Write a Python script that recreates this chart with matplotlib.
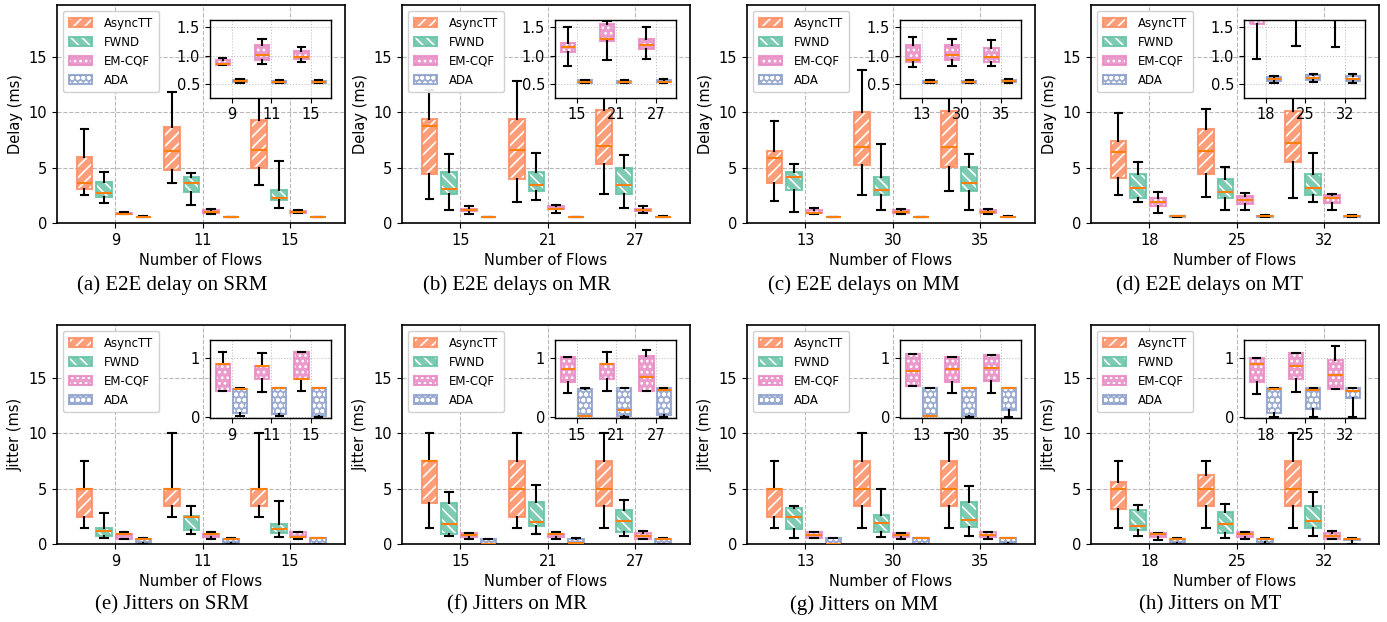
import matplotlib
matplotlib.use('Agg')
import matplotlib.pyplot as plt
from matplotlib.patches import PathPatch, Patch
from matplotlib.colors import to_rgba

plt.rcParams['hatch.color'] = 'white'
plt.rcParams['hatch.linewidth'] = 1.2
plt.rcParams['font.family'] = ['DejaVu Sans']

methods = ['AsyncTT', 'FWND', 'EM-CQF', 'ADA']
colors = ['#fc8d62', '#66c2a5', '#e78ac3', '#8da0cb']
hatches = ['///', '\\\\\\', '...', 'ooo']

flows_srm = ['9', '11', '15']
flows_mr = ['15', '21', '27']
flows_mm = ['13', '30', '35']
flows_mt = ['18', '25', '32']

# each entry: (whislo, q1, med, q3, whishi) per flow group
delay_srm = [
    [(2.5, 3.1, 3.6, 6.0, 8.5), (3.6, 4.8, 6.5, 8.65, 11.8), (3.4, 5.0, 6.6, 9.3, 14.0)],
    [(1.8, 2.35, 2.7, 3.7, 4.6), (1.6, 2.8, 3.6, 4.2, 4.5), (1.4, 2.05, 2.3, 3.0, 5.6)],
    [(0.84, 0.84, 0.85, 0.92, 0.97), (0.85, 0.93, 1.02, 1.18, 1.30), (0.89, 0.94, 0.98, 1.08, 1.15)],
    [(0.53, 0.54, 0.556, 0.58, 0.595), (0.53, 0.53, 0.545, 0.56, 0.57), (0.525, 0.53, 0.545, 0.565, 0.58)],
]
delay_mr = [
    [(2.2, 4.45, 8.8, 9.4, 12.0), (1.9, 4.0, 6.6, 9.4, 12.8), (2.65, 5.3, 7.0, 10.2, 13.5)],
    [(1.2, 2.65, 3.1, 4.6, 6.2), (2.05, 2.85, 3.4, 4.6, 6.3), (1.4, 2.65, 3.45, 5.0, 6.1)],
    [(0.82, 1.07, 1.16, 1.23, 1.5), (0.93, 1.25, 1.30, 1.55, 1.61), (0.94, 1.11, 1.19, 1.29, 1.51)],
    [(0.52, 0.53, 0.55, 0.57, 0.58), (0.52, 0.53, 0.55, 0.56, 0.58), (0.53, 0.54, 0.55, 0.58, 0.60)],
]
delay_mm = [
    [(1.95, 3.6, 5.9, 6.55, 9.2), (2.55, 5.2, 6.9, 10.0, 13.8), (2.9, 5.05, 6.85, 10.15, 14.0)],
    [(1.0, 3.0, 4.2, 4.6, 5.3), (1.15, 2.5, 3.0, 4.15, 7.1), (1.2, 2.85, 3.6, 5.05, 6.2)],
    [(0.8, 0.9, 0.92, 1.18, 1.32), (0.82, 0.92, 1.01, 1.19, 1.29), (0.83, 0.89, 0.98, 1.14, 1.28)],
    [(0.52, 0.53, 0.55, 0.56, 0.58), (0.52, 0.53, 0.55, 0.56, 0.58), (0.53, 0.54, 0.56, 0.57, 0.59)],
]
delay_mt = [
    [(2.55, 4.1, 6.4, 7.4, 9.95), (2.35, 4.45, 6.55, 8.45, 10.3), (2.25, 5.5, 7.2, 10.1, 14.0)],
    [(1.9, 2.3, 3.15, 4.4, 5.55), (1.2, 2.25, 2.8, 4.0, 5.1), (1.9, 2.55, 3.15, 4.45, 6.3)],
    [(0.94, 1.55, 1.9, 2.3, 2.8), (1.17, 1.75, 2.05, 2.45, 2.7), (1.15, 1.8, 2.25, 2.55, 2.65)],
    [(0.52, 0.56, 0.59, 0.63, 0.65), (0.54, 0.58, 0.62, 0.66, 0.68), (0.53, 0.56, 0.60, 0.64, 0.68)],
]

jitter_srm = [
    [(1.45, 2.45, 5.0, 5.0, 7.5), (2.45, 3.45, 5.0, 5.0, 10.0), (2.45, 3.45, 5.0, 5.0, 10.0)],
    [(0.55, 0.7, 1.15, 1.45, 2.8), (0.9, 1.3, 2.45, 2.5, 3.4), (0.6, 1.0, 1.35, 1.8, 3.85)],
    [(0.44, 0.44, 0.9, 0.9, 1.1), (0.43, 0.64, 0.87, 0.87, 1.09), (0.44, 0.65, 0.65, 1.1, 1.1)],
    [(0.02, 0.075, 0.48, 0.48, 0.5), (0.03, 0.06, 0.49, 0.49, 0.5), (0.01, 0.03, 0.5, 0.5, 0.5)],
]
jitter_mr = [
    [(1.45, 3.7, 7.5, 7.5, 10.0), (1.45, 2.4, 5.0, 7.5, 10.0), (1.45, 3.45, 5.0, 7.5, 10.0)],
    [(0.7, 0.9, 1.8, 3.7, 4.7), (0.9, 1.6, 2.0, 3.8, 5.3), (0.75, 1.1, 2.1, 3.1, 4.0)],
    [(0.41, 0.6, 0.815, 1.02, 1.02), (0.45, 0.65, 0.9, 0.9, 1.1), (0.45, 0.45, 0.68, 1.03, 1.14)],
    [(0.02, 0.02, 0.02, 0.48, 0.49), (0.01, 0.03, 0.12, 0.49, 0.5), (0.01, 0.04, 0.46, 0.49, 0.5)],
]
jitter_mm = [
    [(1.45, 2.45, 5.0, 5.0, 7.5), (1.45, 3.45, 5.0, 7.5, 10.0), (1.45, 3.45, 5.0, 7.5, 10.0)],
    [(0.5, 1.35, 2.45, 3.25, 3.45), (0.65, 1.1, 1.9, 2.6, 5.0), (0.75, 1.5, 2.2, 3.8, 5.2)],
    [(0.53, 0.53, 0.79, 1.07, 1.07), (0.41, 0.6, 0.815, 1.02, 1.02), (0.42, 0.61, 0.84, 1.05, 1.05)],
    [(0.02, 0.03, 0.03, 0.5, 0.5), (0.01, 0.03, 0.5, 0.5, 0.5), (0.01, 0.13, 0.5, 0.5, 0.5)],
]
jitter_mt = [
    [(1.45, 3.2, 5.0, 5.65, 7.5), (1.45, 3.45, 5.0, 6.25, 7.5), (1.45, 3.45, 5.0, 7.5, 10.0)],
    [(0.75, 1.25, 1.6, 3.1, 3.5), (0.55, 0.95, 1.8, 2.9, 3.65), (0.7, 1.45, 2.1, 3.45, 4.7)],
    [(0.39, 0.6, 0.9, 1.0, 1.0), (0.43, 0.64, 0.86, 1.08, 1.08), (0.48, 0.48, 0.72, 0.97, 1.2)],
    [(0.0, 0.075, 0.48, 0.49, 0.5), (0.0, 0.145, 0.47, 0.49, 0.5), (0.0, 0.32, 0.45, 0.49, 0.5)],
]

panels = [
    (delay_srm, flows_srm, 'Delay (ms)', '(a) E2E delay on SRM', True),
    (delay_mr, flows_mr, 'Delay (ms)', '(b) E2E delays on MR', True),
    (delay_mm, flows_mm, 'Delay (ms)', '(c) E2E delays on MM', True),
    (delay_mt, flows_mt, 'Delay (ms)', '(d) E2E delays on MT', True),
    (jitter_srm, flows_srm, 'Jitter (ms)', '(e) Jitters on SRM', False),
    (jitter_mr, flows_mr, 'Jitter (ms)', '(f) Jitters on MR', False),
    (jitter_mm, flows_mm, 'Jitter (ms)', '(g) Jitters on MM', False),
    (jitter_mt, flows_mt, 'Jitter (ms)', '(h) Jitters on MT', False),
]

W, H = 1387, 622
fig = plt.figure(figsize=(W / 100, H / 100), dpi=100)

main_offsets = [-0.355, -0.13, 0.095, 0.32]
main_width = 0.18
inset_offsets = {2: -0.24, 3: 0.2}
inset_width = 0.36

lefts = [57, 402, 747, 1091]
axw = 288
rows = [(5, 223), (325, 544)]
cap_x = [172, 517, 864, 1210]
cap_y = [285, 605]

WHITE = to_rgba('white')


def fill_patch(path_or_none, k):
    if path_or_none is None:
        p = Patch(facecolor=colors[k], edgecolor=None, lw=0, hatch=hatches[k], alpha=0.85)
    else:
        p = PathPatch(path_or_none, facecolor=colors[k], edgecolor=None, lw=0,
                      hatch=hatches[k], alpha=0.85, zorder=1.5)
    if hasattr(p, 'set_hatchcolor'):
        p.set_hatchcolor('white')
    p._hatch_color = WHITE
    return p


def draw(ax, data, k, offset, width, lw=1.5):
    st = [dict(whislo=v[0], q1=v[1], med=v[2], q3=v[3], whishi=v[4]) for v in data[k]]
    pos = [i + 1 + offset for i in range(len(st))]
    res = ax.bxp(st, positions=pos, widths=width, patch_artist=True,
                 showfliers=False, manage_ticks=False,
                 medianprops=dict(color='#ff7f0e', lw=1.5, zorder=3),
                 whiskerprops=dict(color='black', lw=1.5),
                 capprops=dict(color='black', lw=1.5))
    for b in res['boxes']:
        path = b.get_path()
        b.remove()
        ax.add_patch(fill_patch(path, k))
        ax.add_patch(PathPatch(path, fill=False, edgecolor=colors[k], lw=lw,
                               alpha=0.85, zorder=1.6))


for idx, (data, flows, ylabel, caption, is_delay) in enumerate(panels):
    r, c = divmod(idx, 4)
    top, bot = rows[r]
    ax = fig.add_axes([lefts[c] / W, 1 - bot / H, axw / W, (bot - top) / H])
    ax.set_axisbelow(True)
    ax.grid(True, ls='--', color='#b8b8b8', lw=0.8)
    for k in range(4):
        draw(ax, data, k, main_offsets[k], main_width)
    ax.set_xlim(0.33, 3.63)
    ax.set_ylim(0, 19.7 if is_delay else 19.8)
    ax.set_yticks([0, 5, 10, 15])
    ax.set_xticks([1, 2, 3], labels=flows)
    ax.tick_params(labelsize=10.5)
    ax.set_xlabel('Number of Flows', fontsize=10.5)
    ax.set_ylabel(ylabel, fontsize=10.5)
    for s in ax.spines.values():
        s.set_linewidth(1.2)

    handles = [(fill_patch(None, k),
                Patch(fill=False, edgecolor=colors[k], lw=1.5, alpha=0.85)) for k in range(4)]
    ax.legend(handles, methods, loc='upper left', fontsize=8.5, handlelength=2.0,
              handleheight=0.8, handletextpad=1.0, labelspacing=0.5,
              borderpad=0.5, framealpha=0.9)

    ins = ax.inset_axes([0.53, 0.575, 0.42, 0.355])
    ins.set_facecolor('white')
    ins.set_axisbelow(True)
    ins.grid(True, ls=':', color='#c0c0c0', lw=0.8)
    for k in (2, 3):
        draw(ins, data, k, inset_offsets[k], inset_width)
    ins.set_xlim(0.43, 3.5)
    if is_delay:
        ins.set_ylim(0.27, 1.62)
        ins.set_yticks([0.5, 1.0, 1.5])
    else:
        ins.set_ylim(-0.01, 1.3)
        ins.set_yticks([0, 1])
    ins.set_xticks([1, 2, 3], labels=flows)
    ins.tick_params(labelsize=10.5)
    for s in ins.spines.values():
        s.set_linewidth(1.0)

    fig.text(cap_x[c] / W, 1 - cap_y[r] / H, caption, ha='center', va='center',
             fontsize=15, family='Liberation Serif')

fig.savefig('out.png', dpi=100)
